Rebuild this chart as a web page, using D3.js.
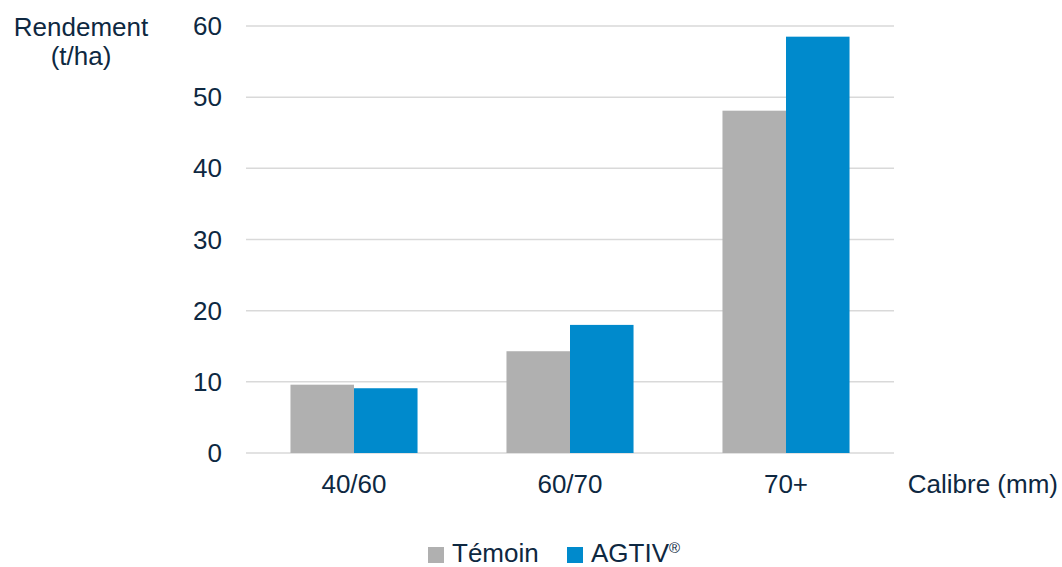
<!DOCTYPE html>
<html>
<head>
	<meta charset="UTF-8">
	<title>Rendement</title>
	<script src="https://cdn.jsdelivr.net/npm/d3@7"></script>
	<style>
		body { margin: 0; background: #fff; }
		text { font-family: Arial, "Liberation Sans", sans-serif; fill: #0e2841; }
	</style>
</head>
<body>
	<script type="text/javascript">
		var categories = ["40/60", "60/70", "70+"];
		var series = ["Témoin", "AGTIV"];
		var temoin = [9.6, 14.3, 48.1];
		var agtiv = [9.1, 18.0, 58.5];
		var yTicks = [0, 10, 20, 30, 40, 50, 60];
		var colors = ["#b0b0b0", "#008acc"];

		var svg = d3.select("body").append("svg")
			.attr("width", 1062)
			.attr("height", 567);

		var x = d3.scaleBand().domain(categories).range([246, 894]).paddingInner(0).paddingOuter(0);
		var x1 = d3.scaleBand().domain(series).range([0, x.bandwidth()]).paddingInner(0).paddingOuter(0.7);
		var y = d3.scaleLinear().domain([0, 60]).range([453, 26]);

		// gridlines
		svg.append("g").selectAll("line").data(yTicks).enter().append("line")
			.attr("x1", 246).attr("x2", 894)
			.attr("y1", function(d){ return y(d); }).attr("y2", function(d){ return y(d); })
			.attr("stroke", "#d9d9d9").attr("stroke-width", 1.5);

		// y labels
		svg.append("g").selectAll("text").data(yTicks).enter().append("text")
			.attr("x", 222).attr("y", function(d){ return y(d); })
			.attr("dy", "0.35em").attr("text-anchor", "end")
			.attr("font-size", 26).text(function(d){ return d; });

		// bars
		var data = categories.map(function(c, i){ return [temoin[i], agtiv[i]]; });
		var groups = svg.append("g").selectAll("g").data(data).enter().append("g")
			.attr("transform", function(d, i){ return "translate(" + x(categories[i]) + ",0)"; });
		groups.selectAll("rect").data(function(d){ return d; }).enter().append("rect")
			.attr("x", function(d, j){ return x1(series[j]); })
			.attr("width", x1.bandwidth())
			.attr("y", function(d){ return y(d); })
			.attr("height", function(d){ return y(0) - y(d); })
			.attr("fill", function(d, j){ return colors[j]; });

		// x labels
		svg.append("g").selectAll("text").data(categories).enter().append("text")
			.attr("x", function(d){ return x(d) + x.bandwidth() / 2; })
			.attr("y", 493).attr("text-anchor", "middle")
			.attr("font-size", 26).text(function(d){ return d; });

		// axis titles
		svg.append("text").attr("x", 81).attr("y", 36).attr("text-anchor", "middle")
			.attr("font-size", 26).text("Rendement");
		svg.append("text").attr("x", 81).attr("y", 65).attr("text-anchor", "middle")
			.attr("font-size", 26).text("(t/ha)");
		svg.append("text").attr("x", 1058).attr("y", 493).attr("text-anchor", "end")
			.attr("font-size", 26).text("Calibre (mm)");

		// legend
		var legX = [428, 567];
		var leg = svg.append("g").selectAll("g").data(series).enter().append("g")
			.attr("transform", function(d, i){ return "translate(" + legX[i] + ",547)"; });
		leg.append("rect").attr("width", 16).attr("height", 16)
			.attr("fill", function(d, i){ return colors[i]; });
		var lt = leg.append("text").attr("x", 24).attr("y", 15)
			.attr("font-family", "'Open Sans', sans-serif")
			.attr("font-size", 26).text(function(d){ return d; });
		lt.filter(function(d, i){ return i === 1; }).append("tspan")
			.attr("font-size", 15).attr("dy", -9).text("®");
	</script>
</body>
</html>
